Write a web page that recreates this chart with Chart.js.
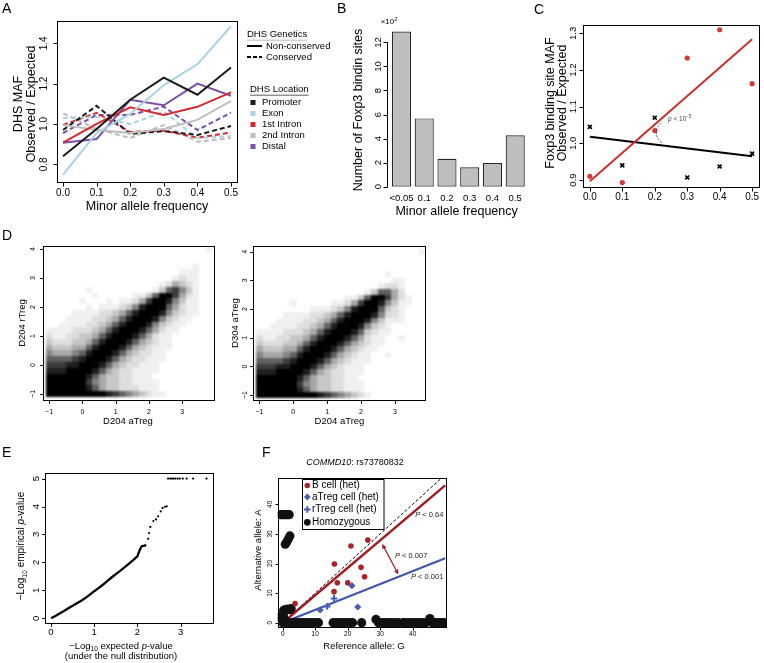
<!DOCTYPE html>
<html>
<head>
<meta charset="utf-8">
<script src="https://cdn.jsdelivr.net/npm/chart.js@4.4.0/dist/chart.umd.min.js"></script>
<style>
body { margin: 0; background: #fff; }
#fig { position: relative; width: 764px; height: 663px; overflow: hidden; font-family: "Liberation Sans", Arial, sans-serif; }
#fig canvas { position: absolute; left: 0; top: 0; }
.lt { position: absolute; font-size: 14px; line-height: 14px; }
</style>
</head>
<body>
<div id="fig">
  <canvas id="cA" width="764" height="663"></canvas>
  <canvas id="cB" width="764" height="663"></canvas>
  <canvas id="cC" width="764" height="663"></canvas>
  <canvas id="cD1" width="764" height="663"></canvas>
  <canvas id="cD2" width="764" height="663"></canvas>
  <canvas id="cE" width="764" height="663"></canvas>
  <canvas id="cF" width="764" height="663"></canvas>
  <div class="lt" style="left:2px;top:1px">A</div>
  <div class="lt" style="left:337px;top:1px">B</div>
  <div class="lt" style="left:534px;top:2px">C</div>
  <div class="lt" style="left:2px;top:228px">D</div>
  <div class="lt" style="left:2px;top:445px">E</div>
  <div class="lt" style="left:262px;top:445px">F</div>
</div>
<script>
const W = 764, H = 663;
const FONT = '"Liberation Sans", Arial, Helvetica, sans-serif';

// ---------- A: DHS MAF observed / expected ----------
const maf = [0, 0.1, 0.2, 0.3, 0.4, 0.5];
const dhsLocations = ['Promoter', 'Exon', '1st Intron', '2nd Intron', 'Distal'];
const locationColors = ['#1a1a1a', '#a8d3e3', '#d42a2f', '#bdbdbd', '#7b4fa6'];
// non-conserved (solid)
const promoterSolid = [0.84, 0.975, 1.12, 1.23, 1.145, 1.28];
const exonSolid = [0.748, 0.955, 1.05, 1.193, 1.296, 1.485];
const intron1Solid = [0.907, 1.0, 1.083, 1.045, 1.085, 1.157];
const intron2Solid = [0.995, 0.97, 0.955, 0.975, 1.02, 1.114];
const distalSolid = [0.907, 0.925, 1.12, 1.093, 1.2, 1.14];
// conserved (dashed)
const promoterDashed = [0.97, 1.09, 0.95, 0.965, 0.945, 0.99];
const exonDashed = [1.03, 1.035, 1.0, 1.06, 0.93, 0.94];
const intron1Dashed = [0.995, 1.055, 0.96, 0.967, 0.932, 0.958];
const intron2Dashed = [1.053, 0.975, 0.93, 0.995, 0.912, 0.93];
const distalDashed = [0.955, 1.045, 1.045, 1.086, 0.97, 1.056];

// ---------- B: Foxp3 binding sites per MAF bin (x10^2) ----------
const foxp3Bins = ['<0.05', '0.1', '0.2', '0.3', '0.4', '0.5'];
const foxp3Sites = [12.9, 5.68, 2.33, 1.61, 1.97, 4.27];

// ---------- C: Foxp3 binding site MAF ----------
const cMaf = [0, 0.1, 0.2, 0.3, 0.4, 0.5];
const foxp3Ratio = [0.91, 0.893, 1.035, 1.233, 1.31, 1.163];
const controlRatio = [1.045, 0.94, 1.07, 0.907, 0.937, 0.972];
const fitX = [0, 0.5];
const foxp3Fit = [0.897, 1.284];
const controlFit = [1.018, 0.965];

// ---------- D: density of aTreg / rTreg scatter (0.2 cells, rows from y=4 down to y=-1) ----------
const cellStep = 0.2;
const cellShade = [0, 0.06, 0.13, 0.22, 0.34, 0.48, 0.62, 0.76, 0.88, 1];
const dLeftRows = [
  "0000000000000000000000001",
  "0000000000000000000000000",
  "0000000000000000000000000",
  "0000000000000000000000100",
  "0000000000000000000011100",
  "0000000000000000000121100",
  "0000000000000000012432100",
  "0000001000000000136753100",
  "0000000100000113699742100",
  "0000010001011247998531100",
  "0000001011123589996421100",
  "0000111122346899985321100",
  "0001111223468999853211000",
  "0011112234689998532110000",
  "1111222346899986421100000",
  "2112233468999864211000000",
  "3222334689998643211000000",
  "4333446899986432111000000",
  "5444568999864322110000000",
  "6666789998643221110000000",
  "7778899986432211100000000",
  "8889999864322111100000000",
  "9999998643322111000000000",
  "9999997543322111100000000",
  "9999998643322211100000000",
  "9999999998765432110000000"
];
const dRightRows = [
  "0000000000000000000000001",
  "0000000000000000000000000",
  "0000000000000000000000000",
  "0000000000000000000000000",
  "0000000000000000000100000",
  "0000000000000000000011000",
  "0000000000000000001221000",
  "0000000000000000136642000",
  "0000000000000113699742100",
  "0000010000011247998531100",
  "0000000011123589996321000",
  "0000111122346899985221000",
  "0001111223468999853111000",
  "0011112234689998532100000",
  "1111222346899986321100000",
  "2112233468999864211001000",
  "3222334689998643211000000",
  "4333446899986432110000000",
  "5444568999864321100100000",
  "6666789998643211100000000",
  "7778899986432111000000000",
  "8889999864322111000000000",
  "9999998643322110000000000",
  "9999997543322111000000000",
  "9999998643322111000000000",
  "9999999998765432100000000"
];

// ---------- E: QQ plot ----------
const qqExpected = [0, 0.1, 0.2, 0.3, 0.4, 0.5, 0.6, 0.7, 0.8, 0.9, 1.0, 1.1, 1.2, 1.3, 1.4, 1.5, 1.6, 1.7, 1.8, 1.9, 2.0, 2.03, 2.06, 2.1, 2.17, 2.2];
const qqObserved = [0, 0.08, 0.17, 0.26, 0.36, 0.45, 0.54, 0.63, 0.73, 0.85, 0.97, 1.08, 1.2, 1.33, 1.46, 1.58, 1.7, 1.82, 1.95, 2.08, 2.22, 2.35, 2.46, 2.58, 2.6, 2.64];
const qqTailX = [2.25, 2.27, 2.3, 2.37, 2.43, 2.48, 2.54, 2.58, 2.64, 2.68];
const qqTailY = [2.85, 3.05, 3.27, 3.48, 3.54, 3.65, 3.83, 3.95, 3.99, 4.01];
const qqTopX = [2.71, 2.76, 2.8, 2.84, 2.88, 2.93, 2.98, 3.05, 3.14, 3.29, 3.6];
const qqTopY = [5, 5, 5, 5, 5, 5, 5, 5, 5, 5, 5];

// ---------- F: COMMD10 rs73780832 allele counts ----------
const bCellHet = [[3.8, 6.5], [15.9, 19.8], [15.8, 10.5], [16.8, 13.5], [20, 13.5], [21, 25.9], [24.1, 18.7], [25.2, 15.5], [26.2, 27.9]];
const aTregHet = [[11.5, 4.3], [21.3, 12.5], [23.1, 5.3]];
const rTregHet = [[13.7, 5.5], [15.8, 8.2]];
const homozygous = [
  [-0.5, 36.5], [0, 36.5], [0.5, 36.5], [1, 36.5], [1.5, 36.5], [2, 36.5],
  [0.8, 26.5], [1.2, 27.2], [1.7, 28.2], [2.2, 29.3],
  [0.3, 4.2], [0.8, 4.4], [1.5, 4.6], [2.2, 4.4], [2.6, 4.8],
  [-0.5, 2.3], [0.2, 2.6], [-0.3, 1.0], [0.5, 1.2],
  [0, 0], [1, 0], [2, 0], [3, 0], [4, 0], [5, 0], [6, 0], [7, 0], [8, 0], [9, 0], [10, 0], [11, 0],
  [15.5, 0], [16.5, 0], [17.5, 0], [18.5, 0], [19.5, 0], [20.5, 0], [21.5, 0], [24.3, 0],
  [28.7, 1.1], [29.5, 0], [30.5, 0], [31.5, 0], [32.5, 0], [33.5, 0], [34.5, 0], [35.5, 0],
  [37, 0], [38, 0], [39, 0], [40, 0], [41, 0], [42, 0], [43, 0], [44, 0], [45.3, 1.4], [46, 0], [47, 0], [48, 0], [49, 0], [50, 0]
];
const identityLine = [[0, 0], [50, 50]];
const bCellFit = [[0, 0], [50, 46.4]];
const tregFit = [[0, 0], [50, 21.8]];

// ---------- helpers ----------
Chart.defaults.font.family = FONT;

function drawText(ctx, t) {
  const size = t.size || 10;
  const segs = t.segs || [{t: t.text}];
  const font = (s, it) => (it ? 'italic ' : '') + s + 'px ' + FONT;
  let total = 0;
  const parts = segs.map(s => {
    const small = s.sub || s.sup;
    const sz = small ? size * 0.68 : size;
    ctx.font = font(sz, s.i || t.italic);
    const w = ctx.measureText(s.t).width;
    total += w;
    return {s, sz, w, dy: s.sub ? size * 0.3 : (s.sup ? -size * 0.34 : 0)};
  });
  ctx.save();
  ctx.translate(t.x, t.y);
  if (t.rot) ctx.rotate(t.rot * Math.PI / 180);
  ctx.fillStyle = t.color || '#000';
  ctx.textBaseline = 'middle';
  ctx.textAlign = 'left';
  let x = t.align === 'left' ? 0 : (t.align === 'right' ? -total : -total / 2);
  const x0 = x;
  parts.forEach(p => {
    ctx.font = font(p.sz, p.s.i || t.italic);
    ctx.fillText(p.s.t, x, p.dy);
    x += p.w;
  });
  if (t.ul) {
    ctx.strokeStyle = t.ul;
    ctx.lineWidth = 0.8;
    ctx.beginPath();
    ctx.moveTo(x0, size * 0.65);
    ctx.lineTo(x, size * 0.65);
    ctx.stroke();
  }
  ctx.restore();
}

const snap = v => Math.round(v) + 0.5;

function drawAxes(chart, spec) {
  const ctx = chart.ctx, ca = chart.chartArea;
  const xs = chart.scales.x, ys = chart.scales.y;
  const tl = spec.tick || 4;
  ctx.save();
  ctx.strokeStyle = '#000';
  ctx.lineWidth = 1;
  if (spec.box) {
    ctx.strokeRect(snap(ca.left), snap(ca.top), Math.round(ca.right - ca.left), Math.round(ca.bottom - ca.top));
  }
  const ax = spec.x;
  if (ax) {
    const y0 = snap(ca.bottom + (ax.gap || 0));
    const px = ax.ticks.map(v => xs.getPixelForValue(v));
    ctx.beginPath();
    if (ax.line) { ctx.moveTo(snap(px[0]), y0); ctx.lineTo(snap(px[px.length - 1]), y0); }
    if (ax.marks !== false) px.forEach(p => { ctx.moveTo(snap(p), y0); ctx.lineTo(snap(p), y0 + tl); });
    ctx.stroke();
    px.forEach((p, i) => drawText(ctx, {x: p, y: y0 + ax.off, text: ax.labels[i], size: ax.size}));
  }
  const ay = spec.y;
  if (ay) {
    const x0 = snap(ca.left - (ay.gap || 0));
    const py = ay.ticks.map(v => ys.getPixelForValue(v));
    ctx.beginPath();
    if (ay.line) { ctx.moveTo(x0, snap(py[0])); ctx.lineTo(x0, snap(py[py.length - 1])); }
    py.forEach(p => { ctx.moveTo(x0, snap(p)); ctx.lineTo(x0 - tl, snap(p)); });
    ctx.stroke();
    py.forEach((p, i) => drawText(ctx, {x: x0 - ay.off, y: p, text: ay.labels[i], size: ay.size, rot: -90}));
  }
  (spec.texts || []).forEach(t => drawText(ctx, t));
  if (spec.extra) spec.extra(chart, ctx);
  ctx.restore();
}

function rPlot(spec) {
  return {
    id: 'rPlot',
    beforeDatasetsDraw(chart) { if (spec.under) spec.under(chart, chart.ctx); },
    afterDraw(chart) { drawAxes(chart, spec); }
  };
}

function plot(id, area, xScale, yScale, type, data, spec) {
  return new Chart(document.getElementById(id), {
    type: type,
    data: data,
    options: {
      responsive: false,
      animation: false,
      devicePixelRatio: 1,
      events: [],
      layout: {padding: {left: area[0], top: area[1], right: W - area[2], bottom: H - area[3]}},
      scales: {
        x: Object.assign({display: false}, xScale),
        y: Object.assign({display: false}, yScale)
      },
      plugins: {legend: {display: false}, tooltip: {enabled: false}}
    },
    plugins: [rPlot(spec)]
  });
}

const toXY = (xs, ys) => xs.map((x, i) => ({x: x, y: ys[i]}));
const pairsXY = arr => arr.map(p => ({x: p[0], y: p[1]}));
const labelsOf = (ticks, digits) => ticks.map(v => v.toFixed(digits));

// ---------- panel A ----------
const solidA = [promoterSolid, exonSolid, intron1Solid, intron2Solid, distalSolid];
const dashedA = [promoterDashed, exonDashed, intron1Dashed, intron2Dashed, distalDashed];
const dsA = [];
solidA.forEach((s, i) => dsA.push({data: toXY(maf, s), showLine: true, pointRadius: 0,
  borderColor: locationColors[i], borderWidth: 2}));
dashedA.forEach((s, i) => dsA.push({data: toXY(maf, s), showLine: true, pointRadius: 0,
  borderColor: locationColors[i], borderWidth: 2, borderDash: [5, 3]}));

const ticksA = [0.8, 1.0, 1.2, 1.4];
plot('cA', [57, 21, 237, 182], {type: 'linear', min: -0.0179, max: 0.5179}, {min: 0.712, max: 1.511},
  'scatter', {datasets: dsA}, {
    box: true, tick: 4,
    x: {ticks: maf, labels: labelsOf(maf, 1), off: 10.6, size: 10},
    y: {ticks: ticksA, labels: labelsOf(ticksA, 1), off: 13.5, size: 10},
    texts: [
      {x: 147, y: 207, text: 'Minor allele frequency', size: 12.5},
      {x: 18.5, y: 104, rot: -90, text: 'DHS MAF', size: 12.5},
      {x: 31.5, y: 104, rot: -90, text: 'Observed / Expected', size: 12.5}
    ],
    extra: (chart, ctx) => {
      drawText(ctx, {x: 247, y: 34, text: 'DHS Genetics', size: 9.5, align: 'left', ul: '#aaa'});
      ctx.strokeStyle = '#000';
      ctx.lineWidth = 2;
      ctx.beginPath(); ctx.moveTo(247, 46); ctx.lineTo(262, 46); ctx.stroke();
      ctx.setLineDash([4, 2]);
      ctx.beginPath(); ctx.moveTo(247, 57); ctx.lineTo(262, 57); ctx.stroke();
      ctx.setLineDash([]);
      drawText(ctx, {x: 266, y: 46, text: 'Non-conserved', size: 9.5, align: 'left'});
      drawText(ctx, {x: 266, y: 57, text: 'Conserved', size: 9.5, align: 'left'});
      drawText(ctx, {x: 250, y: 89, text: 'DHS Location', size: 9.5, align: 'left', ul: '#333'});
      dhsLocations.forEach((name, i) => {
        const y = 102.5 + i * 11;
        ctx.fillStyle = locationColors[i];
        ctx.fillRect(250.5, y - 2.5, 5, 5);
        drawText(ctx, {x: 262, y: y, text: name, size: 9.5, align: 'left'});
      });
    }
  });

// ---------- panel B ----------
const ticksB = [0, 2, 4, 6, 8, 10, 12];
plot('cB', [390.1, 30, 526.6, 186.7], {type: 'category', offset: true}, {min: 0, max: 13.03},
  'bar', {labels: foxp3Bins, datasets: [{data: foxp3Sites, backgroundColor: '#bebebe', borderColor: '#262626',
    borderWidth: 1.2, borderSkipped: false, barPercentage: 0.84, categoryPercentage: 1}]}, {
    tick: 4,
    x: {ticks: [0, 1, 2, 3, 4, 5], labels: foxp3Bins, off: 10.6, size: 9.5, marks: false},
    y: {ticks: ticksB, labels: ticksB.map(String), off: 9, size: 9.5, gap: 3.4, line: true},
    texts: [
      {x: 358.3, y: 110, rot: -90, text: 'Number of Foxp3 bindin sites', size: 12.5},
      {x: 389, y: 22, segs: [{t: '\u00d710'}, {t: '2', sup: true}], size: 8},
      {x: 456.6, y: 212, text: 'Minor allele frequency', size: 12.5}
    ]
  });

// ---------- panel C ----------
const ticksC = [0.9, 1.0, 1.1, 1.2, 1.3];
plot('cC', [582.7, 25, 763, 187], {type: 'linear', min: -0.022, max: 0.519}, {min: 0.881, max: 1.323},
  'scatter', {datasets: [
    {data: toXY(cMaf, foxp3Ratio), pointRadius: 2.6, backgroundColor: '#d33a35', borderWidth: 0},
    {data: toXY(cMaf, controlRatio), pointStyle: 'crossRot', pointRadius: 2.8, borderColor: '#000', borderWidth: 1.7},
    {data: toXY(fitX, foxp3Fit), showLine: true, pointRadius: 0, borderColor: '#c9302c', borderWidth: 2},
    {data: toXY(fitX, controlFit), showLine: true, pointRadius: 0, borderColor: '#000', borderWidth: 2}
  ]}, {
    box: true, tick: 4,
    x: {ticks: cMaf, labels: labelsOf(cMaf, 1), off: 10, size: 10},
    y: {ticks: ticksC, labels: labelsOf(ticksC, 1), off: 10, size: 9.5},
    texts: [
      {x: 550.5, y: 103, rot: -90, text: 'Foxp3 binding site MAF', size: 12.5},
      {x: 562.5, y: 103, rot: -90, text: 'Observed / Expected', size: 12.5},
      {x: 668, y: 119, segs: [{t: 'p', i: true}, {t: ' < 10'}, {t: '\u22125', sup: true}], size: 6.5, align: 'left', color: '#444'}
    ],
    extra: (chart, ctx) => {
      const xs = chart.scales.x, ys = chart.scales.y;
      ctx.strokeStyle = '#333';
      ctx.lineWidth = 0.9;
      ctx.setLineDash([2, 1.5]);
      ctx.beginPath();
      ctx.moveTo(xs.getPixelForValue(0.22), ys.getPixelForValue(1.056));
      ctx.quadraticCurveTo(xs.getPixelForValue(0.188), ys.getPixelForValue(1.029),
        xs.getPixelForValue(0.223), ys.getPixelForValue(1.0));
      ctx.stroke();
      ctx.setLineDash([]);
    }
  });

// ---------- panel D ----------
function gridCells(rows, x0, y0, step) {
  const cells = [];
  rows.forEach((r, j) => {
    const y = y0 + (rows.length - 1 - j) * step;
    for (let i = 0; i < r.length; i++) {
      const v = +r[i];
      if (v) cells.push({x: x0 + i * step, y: y, v: v});
    }
  });
  return cells;
}

// cells are painted on a scratch canvas first, then softened as one image
function drawCells(chart, ctx) {
  const xs = chart.scales.x, ys = chart.scales.y, ca = chart.chartArea;
  const off = document.createElement('canvas');
  off.width = W; off.height = H;
  const oc = off.getContext('2d');
  chart.data.datasets[0].data.forEach(c => {
    const x0 = Math.round(xs.getPixelForValue(c.x - cellStep / 2));
    const x1 = Math.round(xs.getPixelForValue(c.x + cellStep / 2));
    const y0 = Math.round(ys.getPixelForValue(c.y + cellStep / 2));
    const y1 = Math.round(ys.getPixelForValue(c.y - cellStep / 2));
    oc.fillStyle = 'rgba(0,0,0,' + cellShade[c.v] + ')';
    oc.fillRect(x0, y0, x1 - x0, y1 - y0);
  });
  ctx.save();
  ctx.beginPath();
  ctx.rect(ca.left, ca.top, ca.right - ca.left, ca.bottom - ca.top);
  ctx.clip();
  ctx.filter = 'blur(1.2px)';
  ctx.drawImage(off, 0, 0);
  ctx.restore();
}

const ticksDx = [-1, 0, 1, 2, 3];
const ticksDy = [-1, 0, 1, 2, 3, 4];
const minusLabel = v => v < 0 ? '\u2212' + (-v) : String(v);
plot('cD1', [42.7, 245.7, 213.3, 400], {type: 'linear', min: -1.19, max: 3.93}, {min: -1.21, max: 4.12},
  'scatter', {datasets: [{data: gridCells(dLeftRows, -1, -1, cellStep), pointRadius: 0}]}, {
    box: true, tick: 3.3, under: drawCells,
    x: {ticks: ticksDx, labels: ticksDx.map(minusLabel), off: 11.7, size: 7},
    y: {ticks: ticksDy, labels: ticksDy.map(minusLabel), off: 10, size: 7},
    texts: [
      {x: 128, y: 421.7, text: 'D204 aTreg', size: 9.5},
      {x: 22.7, y: 323, rot: -90, text: 'D204 rTreg', size: 9.5}
    ]
  });
plot('cD2', [253.3, 245.7, 425.7, 400], {type: 'linear', min: -1.18, max: 3.91}, {min: -1.17, max: 4.21},
  'scatter', {datasets: [{data: gridCells(dRightRows, -1, -1, cellStep), pointRadius: 0}]}, {
    box: true, tick: 3.3, under: drawCells,
    x: {ticks: ticksDx, labels: ticksDx.map(minusLabel), off: 11.7, size: 7},
    y: {ticks: ticksDy, labels: ticksDy.map(minusLabel), off: 8, size: 7},
    texts: [
      {x: 339.5, y: 421.7, text: 'D204 aTreg', size: 9.5},
      {x: 235, y: 323, rot: -90, text: 'D304 aTreg', size: 9.5}
    ]
  });

// ---------- panel E ----------
const ticksEx = [0, 1, 2, 3];
const ticksEy = [0, 1, 2, 3, 4, 5];
plot('cE', [45, 473, 212.7, 622.7], {type: 'linear', min: -0.139, max: 3.743}, {min: -0.157, max: 5.2},
  'scatter', {datasets: [
    {data: toXY(qqExpected, qqObserved), showLine: true, pointRadius: 0, borderColor: '#000', borderWidth: 2.3},
    {data: toXY(qqTailX, qqTailY), pointRadius: 1.1, backgroundColor: '#000', borderWidth: 0},
    {data: toXY(qqTopX, qqTopY), pointRadius: 1.1, backgroundColor: '#000', borderWidth: 0}
  ]}, {
    box: true, tick: 3.3,
    x: {ticks: ticksEx, labels: ticksEx.map(String), off: 9, size: 9.5},
    y: {ticks: ticksEy, labels: ticksEy.map(String), off: 9, size: 9.5},
    texts: [
      {x: 121, y: 646.7, segs: [{t: '\u2212Log'}, {t: '10', sub: true}, {t: ' expected '}, {t: 'p', i: true}, {t: '-value'}], size: 9.5},
      {x: 121, y: 656.5, text: '(under the null distribution)', size: 9.5},
      {x: 21.7, y: 546, rot: -90, segs: [{t: '\u2212Log'}, {t: '10', sub: true}, {t: ' empirical '}, {t: 'p', i: true}, {t: '-value'}], size: 10}
    ]
  });

// ---------- panel F ----------
const redF = '#a8232b', blueF = '#4a5db0';
const ticksF = [0, 10, 20, 30, 40];
plot('cF', [277.7, 478.3, 446, 627.3], {type: 'linear', min: -1.54, max: 50.25}, {min: -1.55, max: 48.78},
  'scatter', {datasets: [
    {data: pairsXY(bCellHet), pointRadius: 2.8, backgroundColor: redF, borderWidth: 0},
    {data: pairsXY(aTregHet), pointStyle: 'rectRot', pointRadius: 3.6, backgroundColor: blueF, borderWidth: 0},
    {data: pairsXY(rTregHet), pointStyle: 'cross', pointRadius: 3.4, borderColor: blueF, borderWidth: 2},
    {data: pairsXY(homozygous), pointRadius: 4.6, backgroundColor: '#111', borderWidth: 0},
    {data: pairsXY(bCellFit), showLine: true, pointRadius: 0, borderColor: '#a01c24', borderWidth: 2.4},
    {data: pairsXY(tregFit), showLine: true, pointRadius: 0, borderColor: '#4156ad', borderWidth: 2.2},
    {data: pairsXY(identityLine), showLine: true, pointRadius: 0, borderColor: '#000', borderWidth: 1, borderDash: [3, 2]}
  ]}, {
    box: true, tick: 3,
    x: {ticks: ticksF, labels: ticksF.map(String), off: 7, size: 6.5},
    y: {ticks: ticksF, labels: ticksF.map(String), off: 8.4, size: 6.5},
    texts: [
      {x: 355, y: 462.5, segs: [{t: 'COMMD10', i: true}, {t: ': rs73780832'}], size: 9},
      {x: 364, y: 646.7, text: 'Reference allele: G', size: 9.5},
      {x: 258.3, y: 550, rot: -90, text: 'Alternative allele: A', size: 9.5},
      {x: 443.3, y: 515, segs: [{t: 'P', i: true}, {t: ' < 0.64'}], size: 7.5, align: 'right', color: '#222'},
      {x: 395, y: 556, segs: [{t: 'P', i: true}, {t: ' < 0.007'}], size: 7.5, align: 'left', color: '#222'},
      {x: 443.3, y: 576.7, segs: [{t: 'P', i: true}, {t: ' < 0.001'}], size: 7.5, align: 'right', color: '#222'}
    ],
    extra: (chart, ctx) => {
      const xs = chart.scales.x, ys = chart.scales.y;
      // double arrow between fits
      const ax = xs.getPixelForValue(30.8), ay = ys.getPixelForValue(26.2);
      const bx = xs.getPixelForValue(35.4), by = ys.getPixelForValue(16.7);
      ctx.strokeStyle = '#a01c24';
      ctx.lineWidth = 1.2;
      ctx.beginPath(); ctx.moveTo(ax, ay); ctx.lineTo(bx, by);
      const ang = Math.atan2(by - ay, bx - ax);
      [[ax, ay, ang], [bx, by, ang + Math.PI]].forEach(([x, y, a]) => {
        ctx.moveTo(x + 4 * Math.cos(a + 0.45), y + 4 * Math.sin(a + 0.45));
        ctx.lineTo(x, y);
        ctx.lineTo(x + 4 * Math.cos(a - 0.45), y + 4 * Math.sin(a - 0.45));
      });
      ctx.stroke();
      // legend box
      ctx.fillStyle = '#fff';
      ctx.fillRect(303, 479.5, 81, 50);
      ctx.strokeStyle = '#000';
      ctx.lineWidth = 1;
      ctx.strokeRect(302.5, 479.5, 81.5, 50);
      const ly = [485.5, 497, 509.5, 522.3];
      ctx.fillStyle = redF;
      ctx.beginPath(); ctx.arc(307.3, ly[0], 2.8, 0, 2 * Math.PI); ctx.fill();
      ctx.fillStyle = blueF;
      ctx.beginPath();
      ctx.moveTo(307.3, ly[1] - 3.4); ctx.lineTo(310.7, ly[1]); ctx.lineTo(307.3, ly[1] + 3.4); ctx.lineTo(303.9, ly[1]);
      ctx.closePath(); ctx.fill();
      ctx.strokeStyle = blueF;
      ctx.lineWidth = 2;
      ctx.beginPath();
      ctx.moveTo(304, ly[2]); ctx.lineTo(310.6, ly[2]);
      ctx.moveTo(307.3, ly[2] - 3.3); ctx.lineTo(307.3, ly[2] + 3.3);
      ctx.stroke();
      ctx.fillStyle = '#111';
      ctx.beginPath(); ctx.arc(307.3, ly[3], 3.4, 0, 2 * Math.PI); ctx.fill();
      ['B cell (het)', 'aTreg cell (het)', 'rTreg cell (het)', 'Homozygous'].forEach((s, i) =>
        drawText(ctx, {x: 312, y: ly[i], text: s, size: 10, align: 'left'}));
    }
  });
</script>
</body>
</html>
